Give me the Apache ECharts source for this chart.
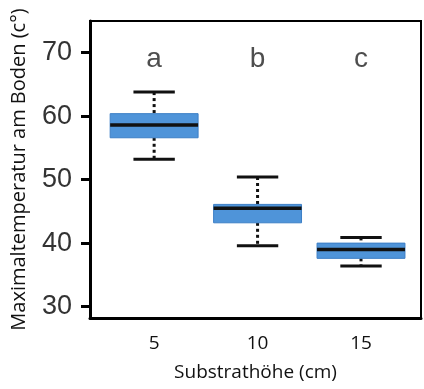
<!DOCTYPE html>
<html>
<head>
<meta charset="utf-8">
<script src="https://cdn.jsdelivr.net/npm/echarts@6/dist/echarts.min.js"></script>
<style>
  html, body { margin: 0; padding: 0; background: #fff; }
  #chart { width: 424px; height: 389px; }
</style>
</head>
<body>
<div id="chart"></div>
<script>
  const categories = ["5", "10", "15"];
  const whiskerLow = [53.2, 39.6, 36.4];
  const q1 = [56.6, 43.2, 37.6];
  const median = [58.6, 45.5, 39.0];
  const q3 = [60.4, 46.1, 40.0];
  const whiskerHigh = [63.8, 50.4, 40.9];
  const letters = ["a", "b", "c"];
  const yTicks = [30, 40, 50, 60, 70];
  const letterY = 68.9;

  const boxData = categories.map((c, i) => [i + 1, whiskerLow[i], q1[i], median[i], q3[i], whiskerHigh[i]]);
  const letterData = letters.map((l, i) => [i + 1, letterY, l]);

  function renderBox(params, api) {
    const x = api.value(0);
    const lo = api.coord([x, api.value(1)]);
    const b1 = api.coord([x, api.value(2)]);
    const med = api.coord([x, api.value(3)]);
    const b3 = api.coord([x, api.value(4)]);
    const hi = api.coord([x, api.value(5)]);
    const boxW = api.size([0.85, 0])[0];
    const capW = api.size([0.4, 0])[0];
    const cx = lo[0];
    const dotted = { stroke: "#111", lineWidth: 3, lineDash: [3, 3] };
    const solid = { stroke: "#111", lineWidth: 3 };
    return {
      type: "group",
      children: [
        { type: "line", shape: { x1: cx, y1: hi[1], x2: cx, y2: b3[1] }, style: dotted },
        { type: "line", shape: { x1: cx, y1: b1[1], x2: cx, y2: lo[1] }, style: dotted },
        {
          type: "rect",
          shape: { x: cx - boxW / 2, y: b3[1], width: boxW, height: b1[1] - b3[1] },
          style: { fill: "#4f94d9", stroke: "#3d7fc6", lineWidth: 1 }
        },
        { type: "line", shape: { x1: cx - boxW / 2, y1: med[1], x2: cx + boxW / 2, y2: med[1] }, style: { stroke: "#111", lineWidth: 3.5 } },
        { type: "line", shape: { x1: cx - capW / 2, y1: hi[1], x2: cx + capW / 2, y2: hi[1] }, style: solid },
        { type: "line", shape: { x1: cx - capW / 2, y1: lo[1], x2: cx + capW / 2, y2: lo[1] }, style: solid }
      ]
    };
  }

  const chart = echarts.init(document.getElementById("chart"));
  chart.setOption({
    animation: false,
    grid: {
      left: 90, right: 3, top: 21, bottom: 71,
      show: true, borderColor: "#000", borderWidth: 2, backgroundColor: "transparent"
    },
    xAxis: {
      type: "value",
      min: 0.38,
      max: 3.58,
      name: "Substrathöhe (cm)",
      nameLocation: "middle",
      nameGap: 45,
      nameTextStyle: { fontFamily: "Open Sans", fontSize: 19, color: "#111" },
      axisLine: { show: true, onZero: false, lineStyle: { color: "#000", width: 3 } },
      axisTick: { show: false },
      splitLine: { show: false },
      axisLabel: {
        customValues: [1, 2, 3],
        margin: 16,
        fontFamily: "Open Sans",
        fontSize: 19,
        color: "#111",
        formatter: (v) => categories[Math.round(v) - 1]
      }
    },
    yAxis: {
      type: "value",
      min: 28.2,
      max: 75,
      name: "Maximaltemperatur am Boden (c°)",
      nameLocation: "middle",
      nameGap: 61,
      nameTextStyle: { fontFamily: "Open Sans", fontSize: 20, color: "#111" },
      axisLine: { show: true, onZero: false, lineStyle: { color: "#000", width: 3 } },
      axisTick: { show: true, customValues: yTicks, length: 9, lineStyle: { color: "#000", width: 3 } },
      splitLine: { show: false },
      axisLabel: {
        customValues: yTicks,
        margin: 18,
        fontFamily: "Liberation Sans",
        fontSize: 27,
        color: "#333"
      }
    },
    series: [
      {
        type: "custom",
        renderItem: renderBox,
        encode: { x: 0, y: [1, 2, 3, 4, 5] },
        data: boxData
      },
      {
        type: "scatter",
        symbolSize: 0,
        data: letterData,
        label: {
          show: true,
          position: "inside",
          fontFamily: "Liberation Sans",
          fontSize: 28,
          color: "#222",
          formatter: (p) => p.data[2]
        }
      }
    ]
  });
</script>
</body>
</html>
